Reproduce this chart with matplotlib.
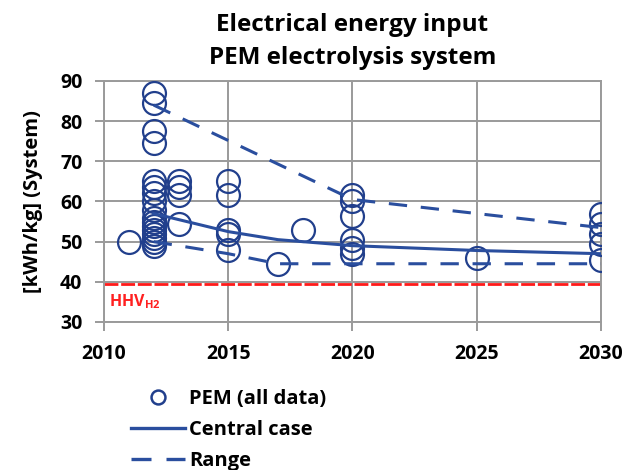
import matplotlib
matplotlib.use('Agg')
import matplotlib.pyplot as plt
from matplotlib.lines import Line2D

# ── Data ──────────────────────────────────────────────────────────────
pem_years = ([2011]
             + [2012] * 17
             + [2013] * 4
             + [2015] * 5
             + [2017, 2018]
             + [2020] * 6
             + [2025]
             + [2030] * 5)
pem_vals = ([50]
            + [87, 84.5, 77.5, 74.5, 65, 63.5, 62, 60, 58, 56, 55, 54, 53, 52, 51, 50, 49]
            + [65, 63.5, 61.5, 54.5]
            + [65, 61.5, 53, 52, 48]
            + [44.5, 53]
            + [61.5, 60, 56.5, 50.5, 48.5, 47]
            + [46]
            + [57, 54.5, 52, 49.5, 45.5])

central_years = [2012, 2013, 2015, 2017, 2020, 2025, 2030]
central_vals = [57, 55.5, 52.5, 50.5, 49, 47.8, 47]

range_hi_years = [2012, 2020, 2030]
range_hi_vals = [84, 60.5, 53.5]
range_lo_years = [2012, 2015, 2017, 2030]
range_lo_vals = [50, 47, 44.5, 44.5]

hhv_h2 = 39.4

blue = '#213F8C'
line_blue = '#2A4E9E'
grid_c = '#9A9A9A'
font = ['Open Sans', 'DejaVu Sans']

plt.rcParams['font.family'] = font
plt.rcParams['font.weight'] = 'bold'
plt.rcParams['mathtext.fontset'] = 'custom'
plt.rcParams['mathtext.rm'] = 'Open Sans:bold'

fig = plt.figure(figsize=(6.28, 4.70), dpi=100)
ax = fig.add_axes([0.1656, 0.3149, 0.7914, 0.5128])

ax.plot(pem_years, pem_vals, 'o', ms=16.5, mfc='none', mec=blue, mew=1.6,
        zorder=3)
ax.plot(central_years, central_vals, '-', color=line_blue, lw=2.2, zorder=4)
ax.plot(range_hi_years, range_hi_vals, color=line_blue, lw=2.2,
        dashes=(6, 4.5), zorder=4)
ax.plot(range_lo_years, range_lo_vals, color=line_blue, lw=2.2,
        dashes=(6, 4.5), zorder=4)
ax.axhline(hhv_h2, color='#FF1A1A', lw=2.0, dashes=(5, 1), zorder=2)
ax.text(2010.2, 35.0, r'HHV$_{\mathregular{H2}}$', color='#FF2020',
        fontsize=11.5, fontweight='bold', va='center', ha='left')

ax.set_xlim(2010, 2030)
ax.set_ylim(30, 90)
ax.set_xticks(range(2010, 2031, 5))
ax.set_yticks(range(30, 91, 10))
ax.grid(True, color=grid_c, lw=1.4)
ax.set_axisbelow(True)
for s in ax.spines.values():
    s.set_color(grid_c)
    s.set_linewidth(1.4)
ax.tick_params(direction='out', length=6.5, width=1.4, color=grid_c,
               labelsize=14)
ax.tick_params(axis='x', pad=9)
ax.tick_params(axis='y', pad=9)
for lab in ax.get_xticklabels() + ax.get_yticklabels():
    lab.set_fontweight('bold')

ax.set_ylabel('[kWh/kg] (System)', fontsize=14.5, fontweight='bold',
              labelpad=12)
ax.set_title('Electrical energy input\nPEM electrolysis system',
             fontsize=17.5, fontweight='bold', linespacing=1.5, pad=12)

handles = [
    Line2D([], [], ls='none', marker='o', ms=10, mfc='none', mec=blue, mew=1.8),
    Line2D([], [], color=line_blue, lw=2.4),
    Line2D([], [], color=line_blue, lw=2.4, dashes=(6, 4.5)),
]
fig.legend(handles, ['PEM (all data)', 'Central case', 'Range'],
           loc='upper left', bbox_to_anchor=(0.195, 0.19), frameon=False,
           fontsize=14.5, handlelength=2.7, handletextpad=0.2,
           labelspacing=0.55, borderaxespad=0)

fig.savefig('out.png', dpi=100, facecolor='white')
